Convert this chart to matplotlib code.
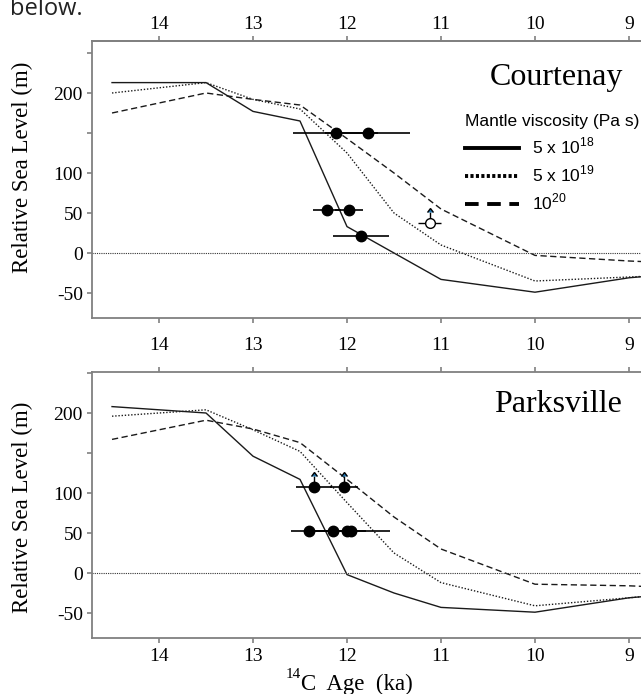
import matplotlib
matplotlib.use('Agg')
import matplotlib.pyplot as plt
from matplotlib.lines import Line2D

plt.rcParams['font.family'] = ['Liberation Serif', 'DejaVu Serif']
plt.rcParams['mathtext.fontset'] = 'custom'
plt.rcParams['mathtext.rm'] = 'Liberation Serif'
plt.rcParams['mathtext.sf'] = 'Liberation Sans'

# ---------------- data ----------------
model_ages = [14.5, 13.5, 13.0, 12.5, 12.0, 11.5, 11.0, 10.0, 9.0, 8.8]

court_5e18 = [213, 213, 177, 165, 33, 0, -33, -49, -31, -29]
court_5e19 = [200, 213, 192, 180, 125, 50, 10, -35, -30, -29]
court_1e20 = [175, 200, 192, 185, 143, 100, 55, -3, -10, -11]

parks_5e18 = [208, 200, 146, 117, -2, -25, -43, -49, -31, -29]
parks_5e19 = [196, 204, 179, 152, 88, 25, -12, -41, -31, -29]
parks_1e20 = [167, 191, 180, 163, 117, 70, 30, -14, -16, -17]

court_age = [12.12, 11.78, 12.21, 11.98, 11.85]
court_rsl = [150, 150, 54, 54, 21]
court_xerr = [0.45, 0.45, 0.15, 0.15, 0.30]

court_open_age = [11.12]
court_open_rsl = [37]
court_open_xerr = [0.12]
court_open_yerr = [14]

parks_age = [12.35, 12.03, 12.40, 12.15, 12.00, 11.96]
parks_rsl = [107, 107, 53, 53, 53, 53]
parks_xerr = [0.19, 0.15, 0.20, 0.20, 0.20, 0.42]
parks_lim_age = [12.35, 12.03]
parks_lim_rsl = [107, 107]
parks_lim_yerr = [14, 14]

x_ticks = [14, 13, 12, 11, 10, 9]
y_ticks = [-50, 0, 50, 100, 150, 200, 250]
y_ticklabels = ['-50', '0', '50', '100', '', '200', '']

legend_title = 'Mantle viscosity (Pa s)'
legend_labels = [r'5 x 10$^{\mathsf{18}}$', r'5 x 10$^{\mathsf{19}}$', r'10$^{\mathsf{20}}$']

# ---------------- figure ----------------
W, H = 641, 694
fig = plt.figure(figsize=(W / 100, H / 100), dpi=100)


def axrect(l, t, r, b):
    return [l / W, 1 - b / H, (r - l) / W, (b - t) / H]


ax1 = fig.add_axes(axrect(92, 41, 641, 318))
ax2 = fig.add_axes(axrect(92, 372, 641, 638))

SPC = '#808080'
line_kw = dict(color='#1a1a1a', lw=1.0)
styles = ['-', (0, (1, 1.3)), (0, (4.5, 2.5))]

for ax, series, ylim in [
    (ax1, [court_5e18, court_5e19, court_1e20], (-81.25, 265)),
    (ax2, [parks_5e18, parks_5e19, parks_1e20], (-81.25, 251.25)),
]:
    for s, ls in zip(series, styles):
        ax.plot(model_ages, s, ls=ls, **line_kw)
    ax.axhline(0, ls=(0, (1, 1)), lw=0.8, color='#333333')
    ax.set_xlim(14.713, 8.872)
    ax.set_ylim(*ylim)
    ax.set_xticks(x_ticks)
    ax.set_yticks(y_ticks)
    ax.set_yticklabels(y_ticklabels)
    ax.spines['right'].set_visible(False)
    for sp in ['left', 'top', 'bottom']:
        ax.spines[sp].set_color(SPC)
        ax.spines[sp].set_linewidth(1.3)
    ax.tick_params(axis='both', direction='out', length=3.6, width=1.2,
                   color=SPC, labelsize=14)
    ax.tick_params(axis='y', pad=2.9)

# top panel: labels at bottom (middle row) + secondary axis labels at top
ax1.tick_params(axis='x', top=False, bottom=True, labelbottom=True, pad=9.8)
sec = ax1.secondary_xaxis('top')
sec.set_xticks(x_ticks)
sec.tick_params(direction='out', length=3.6, width=1.2, color=SPC,
                labelsize=14, pad=2.4)
sec.spines['top'].set_color(SPC)
sec.spines['top'].set_linewidth(1.3)

# bottom panel: ticks on top (no labels), labels at bottom
ax2.tick_params(axis='x', top=True, bottom=True, labeltop=False,
                labelbottom=True, pad=3.5)

# data points
ax1.errorbar(court_age, court_rsl, xerr=court_xerr, fmt='o', color='black',
             ms=7.5, elinewidth=1.2, capsize=0, zorder=5)
ax1.errorbar(court_open_age, court_open_rsl, xerr=court_open_xerr,
             fmt='o', mfc='white', mec='black', ms=7, color='black',
             elinewidth=1.0, capsize=0, zorder=5)
ax1.errorbar(court_open_age, court_open_rsl, yerr=court_open_yerr,
             lolims=True, fmt='none', ecolor='black', elinewidth=1.0,
             capsize=2, zorder=4)

ax2.errorbar(parks_age, parks_rsl, xerr=parks_xerr, fmt='o', color='black',
             ms=7.5, elinewidth=1.2, capsize=0, zorder=5)
ax2.errorbar(parks_lim_age, parks_lim_rsl, yerr=parks_lim_yerr,
             lolims=True, fmt='none', ecolor='black', elinewidth=1.0,
             capsize=2, zorder=4)

# site names
fig.text(623 / W, 1 - 85 / H, 'Courtenay', ha='right', va='baseline',
         fontsize=23)
fig.text(622 / W, 1 - 412 / H, 'Parksville', ha='right', va='baseline',
         fontsize=23)

# legend
handles = [Line2D([], [], color='black', lw=2.8, ls='-'),
           Line2D([], [], color='black', lw=2.8, ls=(0, (0.8, 0.6))),
           Line2D([], [], color='black', lw=2.8, ls=(0, (3.5, 2.2)))]
leg = ax1.legend(handles, legend_labels, title=legend_title,
                 loc='upper left', bbox_to_anchor=(465 / W, 1 - 114 / H),
                 bbox_transform=fig.transFigure, frameon=False,
                 prop={'family': 'Liberation Sans', 'size': 12.5},
                 title_fontproperties={'family': 'Liberation Sans', 'size': 12.5},
                 handlelength=3.1, handletextpad=0.75, labelspacing=0.42,
                 borderpad=0, borderaxespad=0, alignment='left')

# axis labels
fig.text(22 / W, 1 - 167 / H, 'Relative Sea Level (m)', rotation=90,
         ha='center', va='center', fontsize=16.5)
fig.text(22 / W, 1 - 507 / H, 'Relative Sea Level (m)', rotation=90,
         ha='center', va='center', fontsize=16.5)
xl = fig.text(357 / W, 1 - 690 / H, 'C  Age  (ka)', ha='center',
              va='baseline', fontsize=16.5)
fig.canvas.draw()
bb = xl.get_window_extent()
fig.text((bb.x0 - 0.5) / W, 1 - 678 / H, '14', ha='right', va='baseline',
         fontsize=11)

# fragment of surrounding page text visible at the top edge
fig.text(10 / W, 1 - 15 / H, 'below.', ha='left', va='baseline',
         fontsize=17, family='Open Sans', color='#222222')

fig.savefig('out.png', dpi=100)
